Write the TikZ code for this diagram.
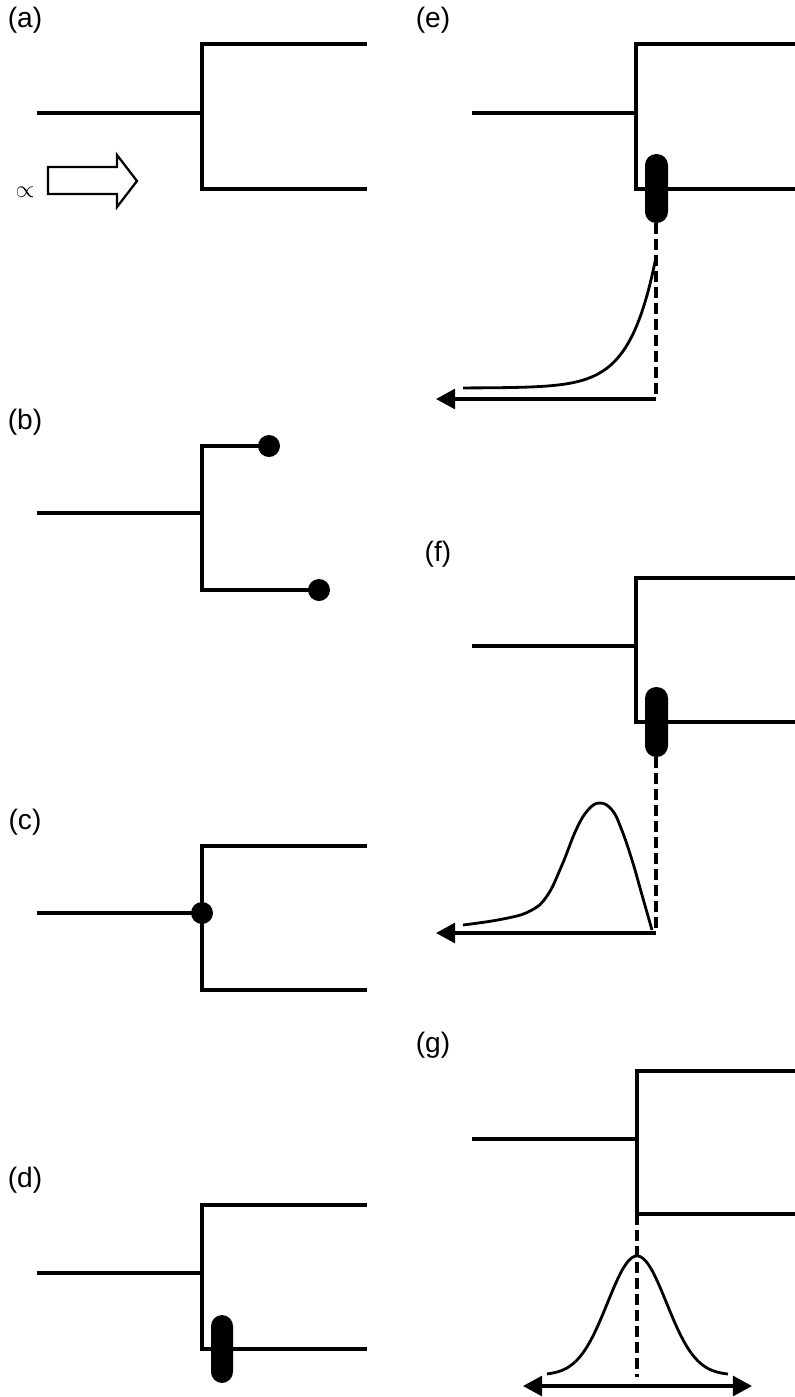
\documentclass[tikz,border=0pt]{standalone}
\usepackage{fontspec}
\setmainfont{Liberation Sans}
\usetikzlibrary{arrows.meta}
\begin{document}
\begin{tikzpicture}[x=0.025cm,y=-0.025cm,
  >={Triangle[length=0.48cm,width=0.5cm]},
  tree/.style={line width=2.2pt},
  guide/.style={line width=2.4pt,dash pattern=on 0.27cm off 0.13cm},
  curve/.style={line width=2pt},
  axis/.style={line width=2.4pt},
  blob/.style={fill=black,rounded corners=0.28cm},
  tag/.style={font=\fontsize{20}{24}\selectfont}]
\useasboundingbox (0,0) rectangle (795,1397);
% (a)
\node[tag] (la) at (25,20) {(a)};
\draw[tree] (37,113) -- (202,113);
\draw[tree] (367,44) -- (202,44) -- (202,189) -- (367,189);
\draw[line width=1.6pt] (48,167) -- (117,167) -- (117,155) -- (137,181) -- (117,207) -- (117,194) -- (48,194) -- cycle;
\node (prop) at (25,192) {\fontsize{18}{20}\selectfont$\propto$};
% (b)
\node[tag] (lb) at (25,422) {(b)};
\draw[tree] (37,513) -- (202,513);
\draw[tree] (269,446) -- (202,446) -- (202,590) -- (319,590);
\fill (269,446) circle[radius=11];
\fill (319,590) circle[radius=11];
% (c)
\node[tag] (lc) at (25,822) {(c)};
\draw[tree] (37,913) -- (202,913);
\draw[tree] (367,846) -- (202,846) -- (202,990) -- (367,990);
\fill (202,913) circle[radius=11];
% (d)
\node[tag] (ld) at (25,1180) {(d)};
\draw[tree] (37,1273) -- (202,1273);
\draw[tree] (367,1205) -- (202,1205) -- (202,1349) -- (367,1349);
\fill[blob] (211,1315) rectangle (233,1383);
% (e)
\node[tag] (le) at (433,20) {(e)};
\draw[tree] (472,113) -- (636,113);
\draw[tree] (795,44) -- (636,44) -- (636,189) -- (795,189);
\fill[blob] (645,154) rectangle (668,223);
\draw[guide] (656,223) -- (656,399);
\draw[axis,->] (656,399) -- (436,399);
\draw[curve] plot[domain=463:656,samples=150] (\x,{388-131*exp((\x-656)/26)});
% (f)
\node[tag] (lf) at (438,554) {(f)};
\draw[tree] (472,646) -- (636,646);
\draw[tree] (795,578) -- (636,578) -- (636,722) -- (795,722);
\fill[blob] (645,687) rectangle (668,757);
\draw[guide] (656,757) -- (656,933);
\draw[axis,->] (656,933) -- (436,933);
\draw[curve] plot[smooth,tension=0.7] coordinates {(463,925) (503,919) (530,911) (547,896) (562,865) (576,830) (588,810) (600,803) (612,810) (621,828) (632,860) (642,895) (652,930)};
% (g)
\node[tag] (lg) at (433,1045) {(g)};
\draw[tree] (472,1139) -- (637,1139);
\draw[tree] (795,1071) -- (637,1071) -- (637,1214) -- (795,1214);
\draw[guide] (637,1214) -- (637,1377);
\draw[axis,<->] (523,1386) -- (752,1386);
\draw[curve] plot[domain=547:728,samples=150] (\x,{1375-119*exp(-(((\x-637)/41.7)^2))});
\end{tikzpicture}
\end{document}
